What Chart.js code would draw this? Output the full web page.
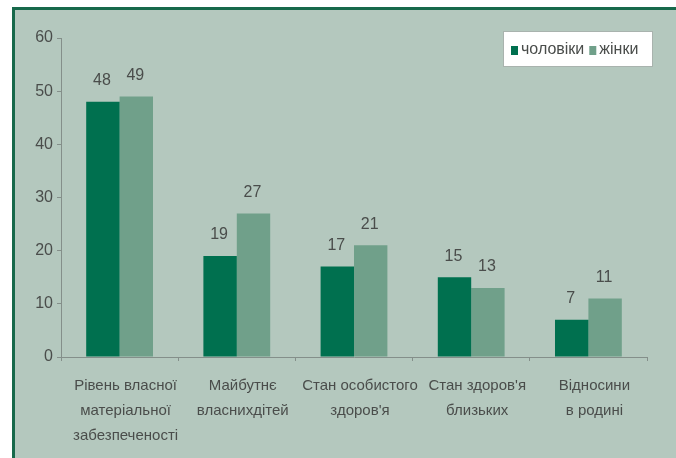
<!DOCTYPE html>
<html lang="uk">
<head>
<meta charset="utf-8">
<script src="https://cdn.jsdelivr.net/npm/chart.js@4.4.1/dist/chart.umd.min.js"></script>
<style>
  html, body { margin: 0; padding: 0; background: #ffffff; }
  #frame {
    position: absolute; left: 12px; top: 7px; width: 661px; height: 448px;
    background: #b4c8be;
    border-top: 3px solid #17694b;
    border-left: 3px solid #17694b;
  }
  #chart { position: absolute; left: 0; top: 0; }
</style>
</head>
<body>
<div id="frame"></div>
<canvas id="chart" width="676" height="458"></canvas>
<script>
// категорії та відсотки
const categories = [
    ['Рівень власної', 'матеріальної', 'забезпеченості'],
    ['Майбутнє', 'власнихдітей'],
    ['Стан особистого', "здоров'я"],
    ["Стан здоров'я", 'близьких'],
    ['Відносини', 'в родині']
];
const men = [48, 19, 17, 15, 7];
const women = [49, 27, 21, 13, 11];
const seriesNames = ['чоловіки', 'жінки'];
const yTicks = [0, 10, 20, 30, 40, 50, 60];

const FONT = "'Liberation Sans Narrow', 'Arial Narrow', 'Liberation Sans', sans-serif";
const darkGreen = '#00704f';
const lightGreen = '#70a08a';
const textGrey = '#4a4d4b';
const axisGrey = '#848f8a';

// підписи значень над стовпчиками
const valueLabels = {
    id: 'valueLabels',
    afterDatasetsDraw(chart) {
        const { ctx } = chart;
        ctx.save();
        ctx.font = '16px ' + FONT;
        ctx.fillStyle = textGrey;
        ctx.textAlign = 'center';
        ctx.textBaseline = 'middle';
        chart.data.datasets.forEach((ds, i) => {
            chart.getDatasetMeta(i).data.forEach((bar, j) => {
                ctx.fillText(ds.data[j], bar.x - 1, bar.y - 21);
            });
        });
        ctx.restore();
    }
};

// легенда у білій рамці праворуч угорі
const boxLegend = {
    id: 'boxLegend',
    afterDraw(chart) {
        const { ctx, chartArea } = chart;
        const right = chartArea.right + 6;
        const left = right - 150;
        const top = 31;
        const h = 36;
        ctx.save();
        ctx.fillStyle = '#ffffff';
        ctx.fillRect(left, top, right - left, h);
        ctx.strokeStyle = '#a9b3ae';
        ctx.lineWidth = 1;
        ctx.strokeRect(left + 0.5, top + 0.5, right - left - 1, h - 1);
        ctx.font = '16px ' + FONT;
        ctx.textBaseline = 'middle';
        let x = left + 8;
        const cy = top + h / 2 + 1;
        chart.data.datasets.forEach((ds) => {
            ctx.fillStyle = ds.backgroundColor;
            ctx.fillRect(x, cy - 4, 7, 9);
            x += 10;
            ctx.fillStyle = textGrey;
            ctx.fillText(ds.label, x, cy);
            x += ctx.measureText(ds.label).width + 5;
        });
        ctx.restore();
    }
};

new Chart(document.getElementById('chart'), {
    type: 'bar',
    data: {
        labels: categories,
        datasets: [
            { label: seriesNames[0], data: men, backgroundColor: darkGreen },
            { label: seriesNames[1], data: women, backgroundColor: lightGreen }
        ]
    },
    options: {
        responsive: false,
        animation: false,
        devicePixelRatio: 1,
        layout: { padding: { left: 0, top: 38, right: 29, bottom: 0 } },
        datasets: {
            bar: { categoryPercentage: 0.57, barPercentage: 1.0 }
        },
        plugins: {
            legend: { display: false },
            tooltip: { enabled: false }
        },
        scales: {
            x: {
                afterFit(scale) { scale.height = 101; },
                border: { color: axisGrey, width: 1 },
                grid: { drawOnChartArea: false, tickLength: 4, color: axisGrey, offset: true },
                ticks: {
                    color: textGrey,
                    padding: 12,
                    labelOffset: 6,
                    autoSkip: false,
                    maxRotation: 0,
                    font: { family: FONT, size: 15, lineHeight: 1.67 }
                }
            },
            y: {
                min: 0,
                max: 60,
                afterFit(scale) { scale.width = 61; },
                afterBuildTicks(scale) { scale.ticks = yTicks.map(v => ({ value: v })); },
                border: { color: axisGrey, width: 1 },
                grid: { drawOnChartArea: false, tickLength: 4, color: axisGrey },
                ticks: {
                    color: textGrey,
                    padding: 4,
                    font: { family: FONT, size: 16 }
                }
            }
        }
    },
    plugins: [valueLabels, boxLegend]
});
</script>
</body>
</html>
